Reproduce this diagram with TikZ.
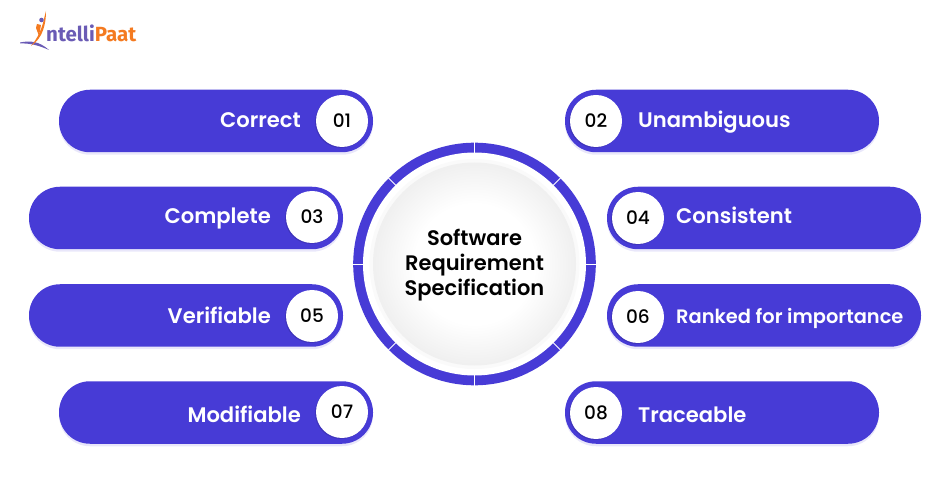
\documentclass[tikz,border=0pt]{standalone}
\usepackage{fontspec}
\setmainfont{Poppins}
\newfontfamily\popmed{Poppins Medium}
\newfontfamily\popsemi{Poppins SemiBold}
\newfontfamily\logofont{Fira Sans}
\usepackage[HTML]{xcolor}
\usepackage{tikz}
\usetikzlibrary{positioning, shadows}

\definecolor{pillblue}{HTML}{473BD6}
\definecolor{logopurple}{HTML}{6A5BB5}
\definecolor{logoorange}{HTML}{F47A20}

\pgfdeclareradialshading{discshade}{\pgfpoint{0pt}{0pt}}{
    color(0pt)=(white); color(15pt)=(white); color(25pt)=(black!6)}

\tikzset{
    pill/.style={fill=pillblue, minimum width=314pt, minimum height=62.5pt, rounded corners=31pt, inner sep=0pt,
        drop shadow={shadow xshift=0pt, shadow yshift=-2.5pt, opacity=0.12, fill=pillblue}},
    numdot/.style={circle, fill=white, minimum size=52pt, inner sep=0pt, font=\popmed\fontsize{18.5}{20}\selectfont,
        drop shadow={shadow xshift=-1pt, shadow yshift=-1pt, opacity=0.12, fill=black}},
    pilltext/.style={text=white, inner sep=0pt, font=\popsemi\fontsize{21.1}{24}\selectfont},
}

\begin{document}
\begin{tikzpicture}[x=1pt, y=-1pt]
\useasboundingbox (0, 0) rectangle (950, 502);

% left column
\node[pill] (pillA) at (216, 121) {};
\node[numdot] (numA) at (342, 121) {01};
\node[pilltext, anchor=base east] (textA) at (301, 127.5) {Correct};

\node[pill] (pillC) at (186, 218) {};
\node[numdot] (numC) at (312, 217) {03};
\node[pilltext, anchor=base east] (textC) at (271, 223.5) {Complete};

\node[pill] (pillE) at (186, 315.5) {};
\node[numdot] (numE) at (312, 316) {05};
\node[pilltext, anchor=base east] (textE) at (271, 323.5) {Verifiable};

\node[pill] (pillG) at (216, 412.5) {};
\node[numdot] (numG) at (342, 412) {07};
\node[pilltext, anchor=base east] (textG) at (301, 422) {Modifiable};

% right column
\node[pill] (pillB) at (722, 121) {};
\node[numdot] (numB) at (596, 121) {02};
\node[pilltext, anchor=base west] (textB) at (638, 127.5) {Unambiguous};

\node[pill] (pillD) at (764, 218) {};
\node[numdot] (numD) at (638, 218) {04};
\node[pilltext, anchor=base west] (textD) at (676, 223.5) {Consistent};

\node[pill] (pillF) at (764, 315.5) {};
\node[numdot] (numF) at (638, 317) {06};
\node[pilltext, anchor=base west, font=\popsemi\fontsize{19.4}{24}\selectfont] (textF) at (676, 323.5) {Ranked for importance};

\node[pill] (pillH) at (722, 412.5) {};
\node[numdot] (numH) at (596, 413) {08};
\node[pilltext, anchor=base west] (textH) at (638, 422) {Traceable};

% centre ring
\coordinate (ctr) at (474.5, 264);
\fill[pillblue] (ctr) circle (121.3pt);
\foreach \ang in {0, 45, ..., 315} {
    \draw[white, line width=0.9pt] (ctr) -- ++(\ang:122.5pt);
}
\fill[white] (ctr) circle (111.5pt);
\fill[black!2] (ctr) circle (105pt);
\fill[black!6] (ctr) circle (101.5pt);
\shade[shading=discshade] (ctr) circle (100.5pt);
\node[align=center, font=\popsemi\fontsize{21}{24.8}\selectfont, inner sep=0pt] (title) at (474.5, 265) {Software\\Requirement\\Specification};

% logo
\fill[logopurple] (20, 42.5) .. controls (30, 40.5) and (39, 41) .. (49, 50) .. controls (40, 46) and (31, 43) .. (20, 43.5) -- cycle;
\fill[logoorange] (46, 11) .. controls (46, 24) and (43, 38) .. (31, 46) .. controls (38, 38) and (42, 28) .. (44, 19) -- cycle;
\fill[logoorange] (37, 24) -- (41, 25) -- (39, 36) -- (36, 28) -- cycle;
\fill[logopurple] (41.5, 20) circle (2.3pt);
\node[anchor=base west, inner sep=0pt, font=\logofont\bfseries\fontsize{20.5}{20}\selectfont] (logo) at (46, 42) {\textcolor{logopurple}{ntelli}\textcolor{logoorange}{Paat}};
\end{tikzpicture}
\end{document}
